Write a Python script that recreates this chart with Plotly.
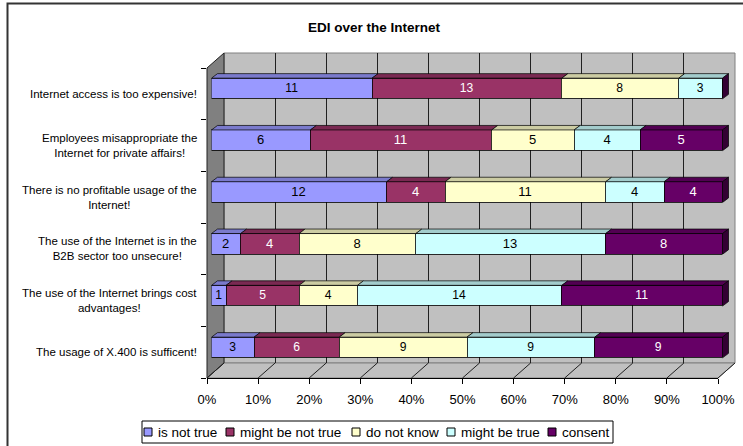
import plotly.graph_objects as go

W, H = 743, 446

# ---------------- data ----------------
categories = [
    "The usage of X.400 is sufficent!",
    "The use of the Internet brings cost<br>advantages!",
    "The use of the Internet is in the<br>B2B sector too unsecure!",
    "There is no profitable usage of the<br>Internet!",
    "Employees misappropriate the<br>Internet for private affairs!",
    "Internet access is too expensive!",
]
series_names = ["is not true", "might be not true", "do not know", "might be true", "consent"]
is_not_true = [3, 1, 2, 12, 6, 11]
might_be_not_true = [6, 5, 4, 4, 11, 13]
do_not_know = [9, 4, 8, 11, 5, 8]
might_be_true = [9, 14, 13, 4, 4, 3]
consent = [9, 11, 8, 4, 5, 0]
x_ticks = [0, 0.1, 0.2, 0.3, 0.4, 0.5, 0.6, 0.7, 0.8, 0.9, 1.0]

# ---------------- styles ----------------
front_colors = ["#9999FF", "#993366", "#FFFFCC", "#CCFFFF", "#660066"]
top_colors = ["#7A7ACC", "#7A2952", "#CCCCA3", "#A3CCCC", "#520052"]
side_color = "#330033"
text_colors = ["black", "white", "black", "black", "white"]
FONT = "Liberation Sans, Arial, sans-serif"
BAR_W = 0.4
legend_square_left_px = [144, 226, 352, 447, 548]   # layout of the legend entries


def px_x(p):
    return p / W


def px_y(p):
    return 1 - p / H


# geometry (pixels)
BACK_L, BACK_R, BACK_T, BACK_B = 224, 735, 53, 363
FRONT_L, FRONT_R, FRONT_T, FRONT_B = 207, 718, 68, 378
BAR_L, BAR_R = 211.5, 722.5
EXTRA = 10  # room for the side face of the bars
BAR_Y_LO, BAR_Y_HI = 373.4, 62.6
DX = 6 / (BAR_R - BAR_L)      # depth in x data units
DY = 4.5 / ((BAR_Y_LO - BAR_Y_HI) / 6)  # depth in y data units

series = [is_not_true, might_be_not_true, do_not_know, might_be_true, consent]
ypos = list(range(len(categories)))

fig = go.Figure()

# empty traces to create back-wall grid subplot and front axis subplot
fig.add_trace(go.Scatter(x=[], y=[], xaxis="x", yaxis="y", showlegend=False, hoverinfo="skip"))
fig.add_trace(go.Scatter(x=[], y=[], xaxis="x3", yaxis="y3", showlegend=False, hoverinfo="skip"))

for name, vals, col, tc in zip(series_names, series, front_colors, text_colors):
    fig.add_trace(go.Bar(
        y=ypos, x=vals, orientation="h", name=name, showlegend=False,
        marker=dict(color=col, line=dict(color="black", width=0.8)),
        text=[str(v) if v else "" for v in vals],
        textposition="inside", insidetextanchor="middle", textangle=0,
        textfont=dict(color=tc, size=13, family=FONT),
        width=BAR_W, xaxis="x2", yaxis="y2", hoverinfo="skip",
    ))

shapes = []
# outer frame
shapes.append(dict(type="rect", xref="paper", yref="paper",
                   x0=px_x(7.5), y0=px_y(3.5), x1=1.05, y1=-0.05,
                   line=dict(color="#333333", width=2), fillcolor="rgba(0,0,0,0)", layer="below"))
# back wall
shapes.append(dict(type="path", xref="paper", yref="paper",
                   path=f"M{px_x(BACK_L)},{px_y(BACK_T)} L{px_x(BACK_R)},{px_y(BACK_T)} "
                        f"L{px_x(BACK_R)},{px_y(BACK_B)} L{px_x(BACK_L)},{px_y(BACK_B)} Z",
                   fillcolor="#C0C0C0", line=dict(color="#808080", width=1), layer="below"))
# floor
shapes.append(dict(type="path", xref="paper", yref="paper",
                   path=f"M{px_x(FRONT_L)},{px_y(FRONT_B)} L{px_x(FRONT_R)},{px_y(FRONT_B)} "
                        f"L{px_x(BACK_R)},{px_y(BACK_B)} L{px_x(BACK_L)},{px_y(BACK_B)} Z",
                   fillcolor="#C0C0C0", line=dict(color="#808080", width=1), layer="below"))
# left wall
shapes.append(dict(type="path", xref="paper", yref="paper",
                   path=f"M{px_x(FRONT_L)},{px_y(FRONT_B)} L{px_x(FRONT_L)},{px_y(FRONT_T)} "
                        f"L{px_x(BACK_L)},{px_y(BACK_T)} L{px_x(BACK_L)},{px_y(BACK_B)} Z",
                   fillcolor="#808080", line=dict(color="#202020", width=1), layer="below"))
# floor grid diagonals
for t in x_ticks:
    fx = FRONT_L + t * (FRONT_R - FRONT_L)
    bx = BACK_L + t * (BACK_R - BACK_L)
    shapes.append(dict(type="line", xref="paper", yref="paper",
                       x0=px_x(fx), y0=px_y(FRONT_B), x1=px_x(bx), y1=px_y(BACK_B),
                       line=dict(color="#202020", width=1), layer="below"))

# 3D faces of the bars
for i in ypos:
    total = sum(s[i] for s in series)
    cum = 0
    yt = i + BAR_W / 2
    yb = i - BAR_W / 2
    for s, tcol in zip(series, top_colors):
        v = s[i]
        if v > 0:
            f0 = cum / total
            f1 = (cum + v) / total
            shapes.append(dict(type="path", xref="x2", yref="y2",
                               path=f"M{f0},{yt} L{f1},{yt} L{f1 + DX},{yt + DY} L{f0 + DX},{yt + DY} Z",
                               fillcolor=tcol, line=dict(color="black", width=0.7), layer="above"))
        cum += v
    shapes.append(dict(type="path", xref="x2", yref="y2",
                       path=f"M1,{yb} L1,{yt} L{1 + DX},{yt + DY} L{1 + DX},{yb + DY} Z",
                       fillcolor=side_color, line=dict(color="black", width=0.7), layer="above"))

annotations = []
for i, c in zip(ypos, categories):
    annotations.append(dict(x=px_x(199), xref="paper", y=i, yref="y3",
                            text=c, showarrow=False, xanchor="right", yanchor="middle",
                            align="center", font=dict(size=11.5, color="black", family=FONT)))

# legend (box, colour squares, names)
LEG_L, LEG_R, LEG_T, LEG_B = 142, 613, 421, 443
shapes.append(dict(type="rect", xref="paper", yref="paper",
                   x0=px_x(LEG_L), x1=px_x(LEG_R), y0=px_y(LEG_B), y1=px_y(LEG_T),
                   fillcolor="white", line=dict(color="black", width=1), layer="above"))
LEG_CY = 432
for name, col, sx in zip(series_names, front_colors, legend_square_left_px):
    shapes.append(dict(type="rect", xref="paper", yref="paper",
                       x0=px_x(sx), x1=px_x(sx + 8), y0=px_y(LEG_CY + 4), y1=px_y(LEG_CY - 4),
                       fillcolor=col, line=dict(color="black", width=1), layer="above"))
    annotations.append(dict(x=px_x(sx + 12), xref="paper", y=px_y(LEG_CY), yref="paper",
                            text=name, showarrow=False, xanchor="left", yanchor="middle",
                            font=dict(size=13.5, color="black", family=FONT)))

fig.update_layout(
    template="none",
    width=W, height=H, autosize=False,
    margin=dict(l=0, r=0, t=0, b=0, autoexpand=False),
    paper_bgcolor="white", plot_bgcolor="rgba(0,0,0,0)",
    barmode="stack", barnorm="fraction", bargap=0,
    font=dict(family=FONT, color="black"),
    title=dict(text="EDI over the Internet", x=px_x(374), y=px_y(27),
               xanchor="center", yanchor="middle", xref="paper", yref="paper",
               font=dict(size=13.5, family=FONT, weight="bold", color="black")),
    shapes=shapes, annotations=annotations,
    showlegend=False,
    # back wall gridlines
    xaxis=dict(domain=[px_x(BACK_L), px_x(BACK_R)], range=[0, 1], anchor="y", automargin=False,
               tickmode="array", tickvals=x_ticks, showgrid=True, gridcolor="#202020", gridwidth=1,
               showticklabels=False, ticks="", zeroline=False, showline=False, fixedrange=True),
    yaxis=dict(domain=[px_y(BACK_B), px_y(BACK_T)], range=[0, 1], anchor="x", automargin=False,
               showgrid=False, showticklabels=False, ticks="", zeroline=False, showline=False),
    # bars
    xaxis2=dict(domain=[px_x(BAR_L), px_x(BAR_R + EXTRA)], automargin=False,
                range=[0, 1 + EXTRA / (BAR_R - BAR_L)], anchor="y2", visible=False),
    yaxis2=dict(domain=[px_y(BAR_Y_LO), px_y(BAR_Y_HI)], range=[-0.5, len(categories) - 0.5],
                anchor="x2", visible=False, automargin=False),
    # front axes
    xaxis3=dict(domain=[px_x(FRONT_L), px_x(FRONT_R)], range=[0, 1], anchor="y3", automargin=False,
                tickmode="array", tickvals=x_ticks, tickformat=".0%",
                ticks="outside", ticklen=5, tickcolor="black", tickwidth=1,
                showline=True, linecolor="black", linewidth=1,
                showgrid=False, zeroline=False,
                tickfont=dict(size=13, family=FONT, color="black"), ticklabelstandoff=4),
    yaxis3=dict(domain=[px_y(FRONT_B), px_y(FRONT_T)], range=[-0.5, len(categories) - 0.5],
                anchor="x3", showticklabels=False, ticks="", showgrid=False, zeroline=False,
                showline=False, automargin=False,
                minor=dict(ticks="outside", ticklen=5, tickcolor="black", tickwidth=1,
                           tickmode="linear", tick0=-0.5, dtick=1, showgrid=False)),
)

fig.write_html("out.html")
